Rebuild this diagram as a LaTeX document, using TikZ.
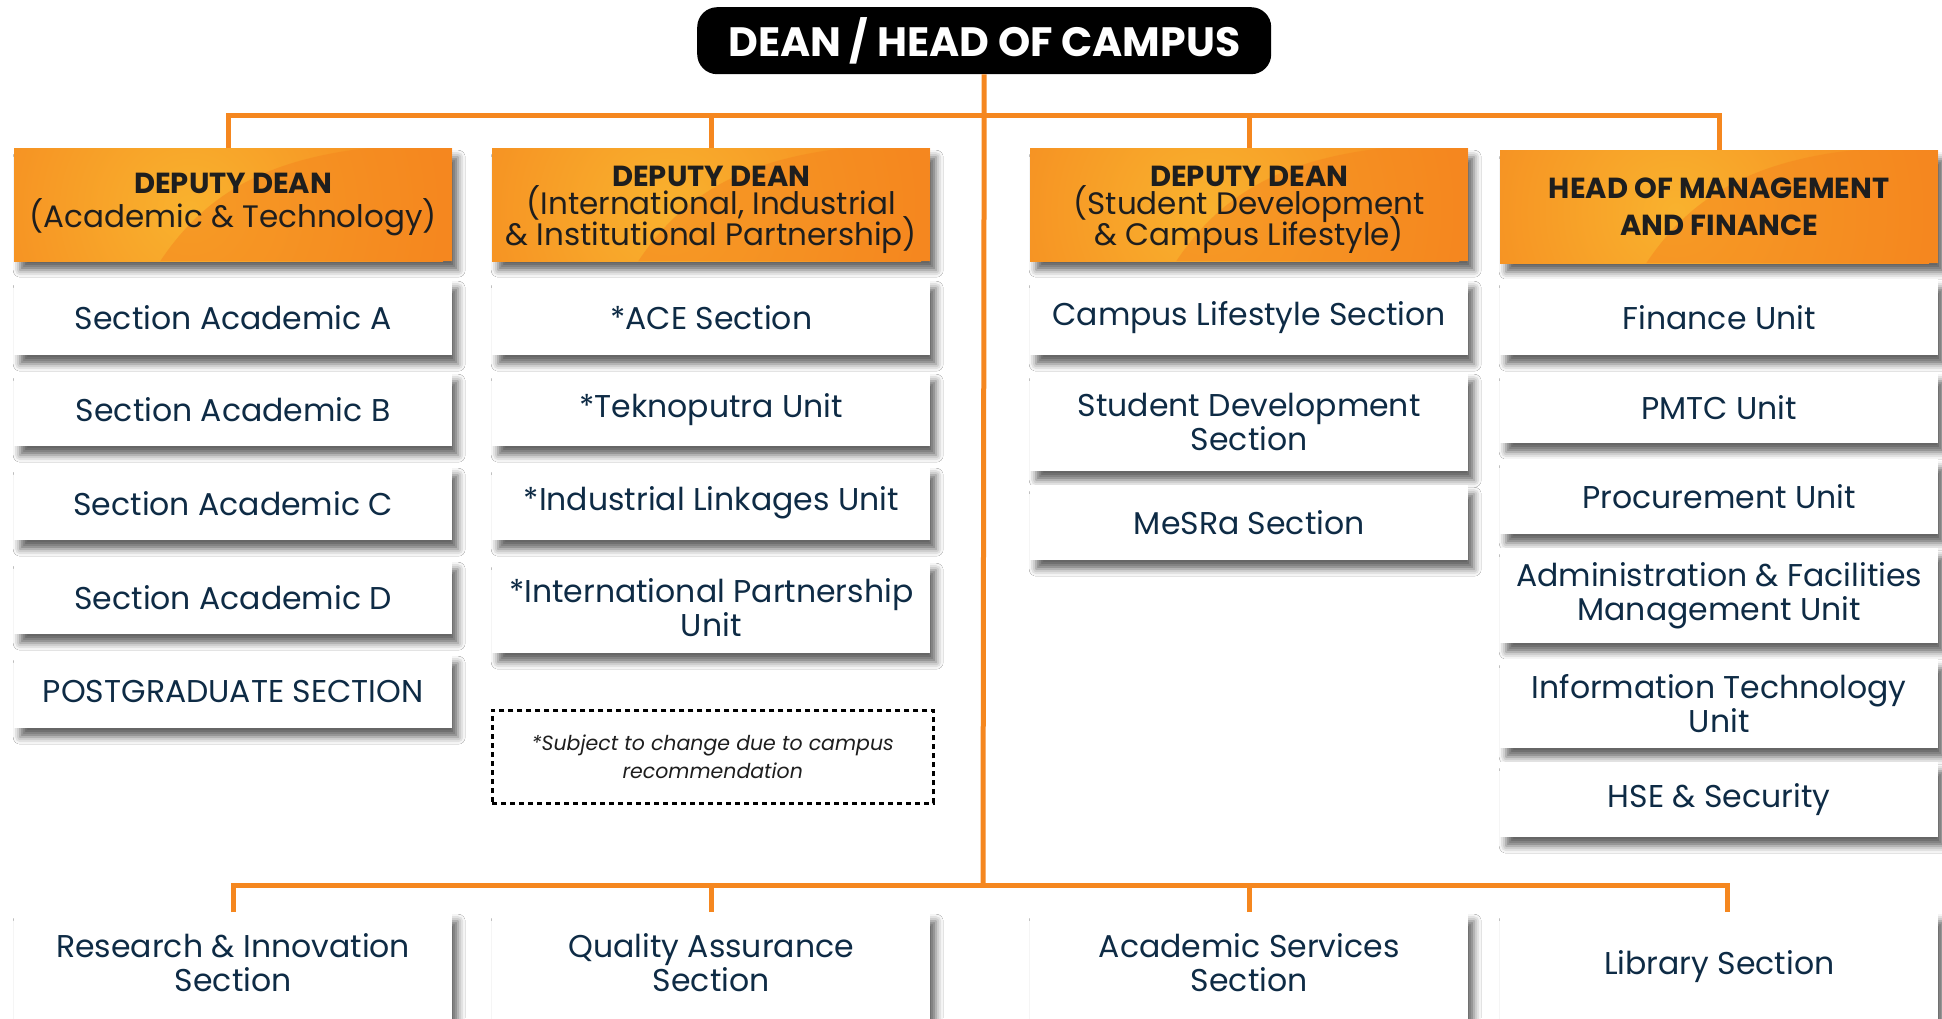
\documentclass[tikz,border=0pt]{standalone}
\usepackage{fontspec}
\setmainfont{Poppins}
\usetikzlibrary{shadows.blur,calc}
\definecolor{orA}{HTML}{F5871F}
\definecolor{orL}{HTML}{F9B22E}
\definecolor{navy}{HTML}{0E2B45}
\definecolor{hdtxt}{HTML}{1E1E1E}
\lineskiplimit=-100pt
\begin{document}
\begin{tikzpicture}[x=1pt,y=-1pt,
  conn/.style={draw=orA,line width=5pt},
  shd/.style={blur shadow={shadow xshift=6pt,shadow yshift=-9pt,shadow blur radius=7pt,shadow opacity=60}},
  unitbox/.style={rectangle,fill=white,anchor=north west,minimum width=438pt,inner sep=0pt,
    text=navy,align=center,font=\fontsize{31.5}{34}\selectfont,shd},
  headbox/.style={rectangle,fill=orA,anchor=north west,minimum width=438pt,minimum height=113pt,inner sep=0pt,
    text=hdtxt,align=center,font=\fontsize{31}{31}\selectfont,shd,
    path picture={
      \shade[inner color=orL, outer color=orA] ([xshift=-45pt,yshift=-5pt]path picture bounding box.center) circle (260pt);
      \fill[orA,opacity=0.55] ([xshift=146pt]path picture bounding box.south west)
        .. controls +(40pt,60pt) and +(-110pt,-12pt) .. ([xshift=353pt]path picture bounding box.north west)
        -- (path picture bounding box.north east) -- (path picture bounding box.south east) -- cycle;
    }},
  botbox/.style={unitbox,minimum height=140pt,text depth=40pt},
  notebox/.style={rectangle,draw=black,line width=2.5pt,dash pattern=on 5pt off 4pt,anchor=north west,
    minimum width=441pt,minimum height=93pt,inner sep=0pt,align=center,text=hdtxt,
    font=\itshape\fontsize{20.5}{28}\selectfont},
]
\useasboundingbox (0,0) rectangle (1942,1018);
\fill[white] (0,0) rectangle (1942,1018);

% top
\node[rectangle,rounded corners=20pt,fill=black,minimum width=574pt,minimum height=67pt,anchor=north west,
  text=white,font=\bfseries\fontsize{41}{41}\selectfont,inner sep=0pt] (dean) at (697,7) {DEAN / HEAD OF CAMPUS};

% headers
\node[headbox,font=\fontsize{31}{34}\selectfont] (h1) at (14,148) {{\bfseries\fontsize{29}{34}\selectfont DEPUTY DEAN}\\(Academic \& Technology)};
\node[headbox] (h2) at (492,148) {\rule{0pt}{30pt}{\bfseries\fontsize{29}{29}\selectfont DEPUTY DEAN}\\[-3pt](International, Industrial\\\& Institutional Partnership)};
\node[headbox] (h3) at (1030,148) {\rule{0pt}{30pt}{\bfseries\fontsize{29}{29}\selectfont DEPUTY DEAN}\\[-3pt](Student Development\\\& Campus Lifestyle)};
\node[headbox,font=\bfseries\fontsize{29}{37}\selectfont] (h4) at (1500,150) {HEAD OF MANAGEMENT\\AND FINANCE};

% column 1
\node[unitbox,minimum height=76pt] (a1) at (14,279) {Section Academic A};
\node[unitbox,minimum height=74pt] (a2) at (14,372) {Section Academic B};
\node[unitbox,minimum height=74pt] (a3) at (14,466) {Section Academic C};
\node[unitbox,minimum height=74pt] (a4) at (14,560) {Section Academic D};
\node[unitbox,minimum height=74pt] (a5) at (14,654) {POSTGRADUATE SECTION};

% column 2
\node[unitbox,minimum height=76pt] (b1) at (492,279) {*ACE Section};
\node[unitbox,minimum height=74pt] (b2) at (492,372) {*Teknoputra Unit};
\node[unitbox,minimum height=74pt] (b3) at (492,466) {*Industrial Linkages Unit};
\node[unitbox,minimum height=92pt] (b4) at (492,561) {*International Partnership\\Unit};
\node[notebox] (note) at (491,709) {*Subject to change due to campus\\recommendation};

% column 3
\node[unitbox,minimum height=76pt] (c1) at (1030,279) {Campus Lifestyle Section};
\node[unitbox,minimum height=99pt] (c2) at (1030,372) {Student Development\\Section};
\node[unitbox,minimum height=75pt] (c3) at (1030,485) {MeSRa Section};

% column 4
\node[unitbox,minimum height=76pt] (d1) at (1500,279) {Finance Unit};
\node[unitbox,minimum height=71pt] (d2) at (1500,372) {PMTC Unit};
\node[unitbox,minimum height=75pt] (d3) at (1500,459) {Procurement Unit};
\node[unitbox,minimum height=95pt] (d4) at (1500,548) {Administration \& Facilities\\Management Unit};
\node[unitbox,minimum height=89pt] (d5) at (1500,659) {Information Technology\\Unit};
\node[unitbox,minimum height=75pt] (d6) at (1500,762) {HSE \& Security};

% bottom row
\node[botbox] (e1) at (14,912) {Research \& Innovation\\Section};
\node[botbox] (e2) at (492,912) {Quality Assurance\\Section};
\node[botbox] (e3) at (1030,912) {Academic Services\\Section};
\node[botbox] (e4) at (1500,912) {Library Section};

% connectors
\coordinate (tj) at (983,115);
\coordinate (bj) at (983,885);
\draw[conn] (dean.south) -- (bj);
\draw[conn] ([xshift=-5pt]h1.north) |- (tj) -| (h4.north);
\draw[conn] (h2.north) -- (h2.north |- tj);
\draw[conn] (h3.north) -- (h3.north |- tj);
\draw[conn] (e1.north) |- (bj) -| ([xshift=8pt]e4.north);
\draw[conn] (e2.north) -- (e2.north |- bj);
\draw[conn] (e3.north) -- (e3.north |- bj);
\end{tikzpicture}
\end{document}
